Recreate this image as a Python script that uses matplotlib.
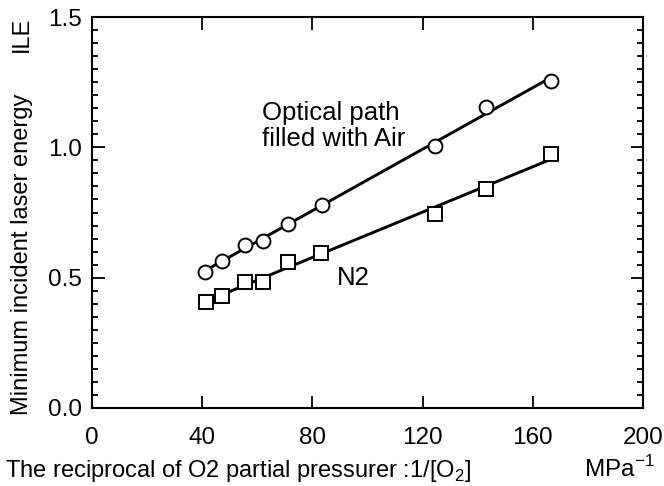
import numpy as np
import matplotlib
matplotlib.use("Agg")
import matplotlib.pyplot as plt
from matplotlib.ticker import MultipleLocator, FormatStrFormatter

plt.rcParams['font.family'] = ['Liberation Sans', 'DejaVu Sans']
plt.rcParams['mathtext.fontset'] = 'custom'
plt.rcParams['mathtext.rm'] = 'Liberation Sans'

# 1/[O2] in MPa^-1 and minimum incident laser energy ILE
x_air = [41, 47, 55.5, 62, 71, 83.5, 124.5, 143, 166.5]
ile_air = [0.52, 0.565, 0.625, 0.64, 0.705, 0.78, 1.005, 1.155, 1.255]
x_n2 = [41.5, 47, 55.5, 62, 71, 83, 124.5, 143, 166.5]
ile_n2 = [0.405, 0.43, 0.485, 0.485, 0.56, 0.595, 0.745, 0.84, 0.975]

fig = plt.figure(figsize=(6.64, 4.86), dpi=100)
ax = fig.add_axes([0.1386, 0.1605, 0.8298, 0.8045])

for xs, ys, mk in [(x_air, ile_air, 'o'), (x_n2, ile_n2, 's')]:
    xs = np.array(xs)
    ys = np.array(ys)
    k, b = np.polyfit(xs, ys, 1)
    xf = np.array([xs.min(), xs.max()])
    ax.plot(xf, k * xf + b, color='black', lw=2.1, zorder=2)
    ax.plot(xs, ys, linestyle='none', marker=mk, markersize=10 if mk == 'o' else 9.5,
            markerfacecolor='white', markeredgecolor='black', markeredgewidth=1.4, zorder=3)

ax.set_xlim(0, 200)
ax.set_ylim(0, 1.5)
ax.xaxis.set_major_locator(MultipleLocator(40))
ax.yaxis.set_major_locator(MultipleLocator(0.5))
ax.yaxis.set_minor_locator(MultipleLocator(0.05))
ax.yaxis.set_major_formatter(FormatStrFormatter('%.1f'))
ax.tick_params(which='both', direction='in', top=True, right=True, width=1.3, labelsize=17.5)
ax.tick_params(which='major', length=9)
ax.tick_params(which='minor', length=4.5)
ax.tick_params(axis='x', pad=14)
ax.tick_params(axis='y', pad=7)
for s in ax.spines.values():
    s.set_linewidth(1.5)

ax.text(61.7, 1.082, 'Optical path\nfilled with Air', fontsize=18.5, ha='left', va='center',
        linespacing=1.15)
ax.text(88.9, 0.499, 'N2', fontsize=18.5, ha='left', va='center')

# y label in two pieces, with the wide gap before the symbol
fig.text(0.033, 0.477, 'Minimum incident laser energy', rotation=90, fontsize=17,
         ha='center', va='center')
fig.text(0.033, 0.930, 'ILE', rotation=90, fontsize=17, ha='center', va='center')
fig.text(0.0075, 0.0185, 'The reciprocal of O2 partial pressurer :1/[O$_2$]', fontsize=17,
         ha='left', va='baseline')
fig.text(0.986, 0.0185, 'MPa$^{-1}$', fontsize=17.5, ha='right', va='baseline')

fig.savefig('out.png', dpi=100)
